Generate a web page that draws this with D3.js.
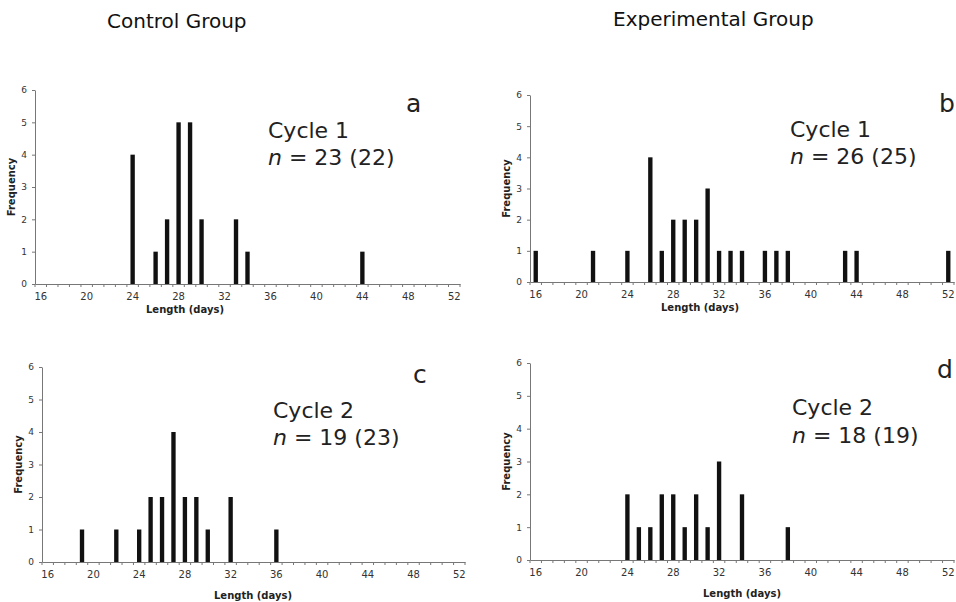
<!DOCTYPE html>
<html>
<head>
<meta charset="utf-8">
<style>
  body { margin: 0; background: #fff; }
  text { font-family: "DejaVu Sans", Verdana, sans-serif; }
  .tick text { fill: #333; }
  .axis path, .axis line { stroke: #777; }
  .bar { fill: #111; }
  .head { font-size: 20px; fill: #111; }
  .note { font-size: 22px; fill: #222; }
  .letter { font-size: 25px; fill: #222; }
  .lab { font-size: 10px; font-weight: bold; fill: #222; }
</style>
</head>
<body>
<script src="https://cdn.jsdelivr.net/npm/d3@7"></script>
<script>
// days 16..52, frequency per day
var days = d3.range(16, 53);
var dayTicks = [16, 20, 24, 28, 32, 36, 40, 44, 48, 52];
var freqTicks = [0, 1, 2, 3, 4, 5, 6];

var ctrlCycle1 = [[24, 4], [26, 1], [27, 2], [28, 5], [29, 5], [30, 2], [33, 2], [34, 1], [44, 1]];
var expCycle1 = [[16, 1], [21, 1], [24, 1], [26, 4], [27, 1], [28, 2], [29, 2], [30, 2], [31, 3],
                 [32, 1], [33, 1], [34, 1], [36, 1], [37, 1], [38, 1], [43, 1], [44, 1], [52, 1]];
var ctrlCycle2 = [[19, 1], [22, 1], [24, 1], [25, 2], [26, 2], [27, 4], [28, 2], [29, 2], [30, 1], [32, 2], [36, 1]];
var expCycle2 = [[24, 2], [25, 1], [26, 1], [27, 2], [28, 2], [29, 1], [30, 2], [31, 1], [32, 3], [34, 2], [38, 1]];

var groupTitles = ["Control Group", "Experimental Group"];

var svg = d3.select("body").append("svg")
    .attr("width", 956)
    .attr("height", 602);

// headers
svg.append("text").attr("class", "head").attr("x", 107).attr("y", 28).text(groupTitles[0]);
svg.append("text").attr("class", "head").attr("x", 613).attr("y", 26).text(groupTitles[1]);

// panel boxes: l, r = x-axis extent, t, b = y of 6 and 0
var panels = [
  {data: ctrlCycle1, l: 35, r: 460, t: 90, b: 284, letter: "a", lx: 406, ly: 112,
   cyc: "Cycle 1", n: "23 (22)", cx: 268, cy: 138, ny: 165, xl: 185, xly: 313},
  {data: expCycle1, l: 530, r: 954, t: 95, b: 282, letter: "b", lx: 939, ly: 112,
   cyc: "Cycle 1", n: "26 (25)", cx: 790, cy: 137, ny: 164, xl: 700, xly: 311},
  {data: ctrlCycle2, l: 42, r: 465, t: 367, b: 562, letter: "c", lx: 413, ly: 383,
   cyc: "Cycle 2", n: "19 (23)", cx: 273, cy: 418, ny: 445, xl: 253, xly: 599},
  {data: expCycle2, l: 530, r: 954, t: 363, b: 560, letter: "d", lx: 937, ly: 378,
   cyc: "Cycle 2", n: "18 (19)", cx: 792, cy: 415, ny: 443, xl: 742, xly: 597}
];

panels.forEach(function(p) {
  var pad = 0.62;
  var x = d3.scaleBand().domain(days).range([p.l, p.r]).paddingInner(pad).paddingOuter(pad / 2);
  var y = d3.scaleLinear().domain([0, 6]).range([p.b, p.t]);
  var g = svg.append("g");

  // bars
  g.selectAll("rect").data(p.data).enter().append("rect")
      .attr("class", "bar")
      .attr("x", function(d) { return x(d[0]); })
      .attr("width", x.bandwidth())
      .attr("y", function(d) { return y(d[1]); })
      .attr("height", function(d) { return y(0) - y(d[1]); });

  // x axis: labels every 4 days, minor ticks at category edges
  var xa = g.append("g").attr("class", "axis")
      .attr("transform", "translate(0," + p.b + ")")
      .call(d3.axisBottom(x).tickValues(dayTicks).tickSize(0).tickPadding(9));
  xa.selectAll(".tick text").style("font-size", "10px");
  var edge = (x.step() - x.bandwidth()) / 2;
  xa.selectAll(".minor").data(days.concat([53])).enter().append("line")
      .attr("class", "minor")
      .attr("x1", function(d) { return d === 53 ? p.r : x(d) - edge; })
      .attr("x2", function(d) { return d === 53 ? p.r : x(d) - edge; })
      .attr("y1", 0).attr("y2", 3)
      .attr("stroke", "#777");

  // y axis
  var ya = g.append("g").attr("class", "axis")
      .attr("transform", "translate(" + p.l + ",0)")
      .call(d3.axisLeft(y).tickValues(freqTicks).tickFormat(d3.format("d"))
        .tickSizeInner(3).tickSizeOuter(0).tickPadding(5));
  ya.selectAll(".tick text").style("font-size", "9px");

  // axis titles
  g.append("text").attr("class", "lab")
      .attr("transform", "translate(" + (p.l - 20) + "," + ((p.t + p.b) / 2) + ") rotate(-90)")
      .attr("text-anchor", "middle")
      .text("Frequency");
  g.append("text").attr("class", "lab")
      .attr("x", p.xl).attr("y", p.xly)
      .attr("text-anchor", "middle")
      .text("Length (days)");

  // annotations
  g.append("text").attr("class", "letter").attr("x", p.lx).attr("y", p.ly).text(p.letter);
  g.append("text").attr("class", "note").attr("x", p.cx).attr("y", p.cy).text(p.cyc);
  var t = g.append("text").attr("class", "note").attr("x", p.cx).attr("y", p.ny);
  t.append("tspan").style("font-style", "italic").text("n");
  t.append("tspan").text(" = " + p.n);
});
</script>
</body>
</html>
